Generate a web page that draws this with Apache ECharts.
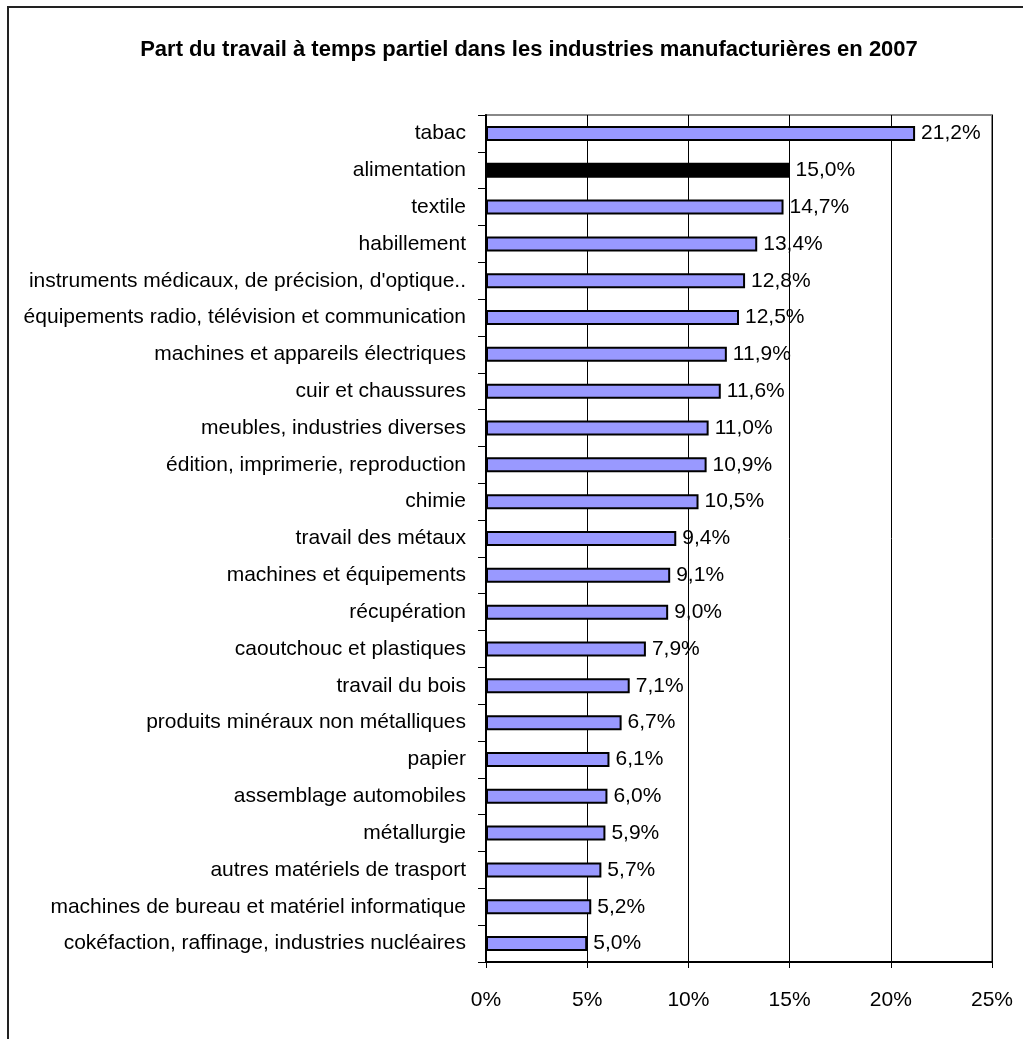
<!DOCTYPE html>
<html>
<head>
<meta charset="utf-8">
<script src="https://cdn.jsdelivr.net/npm/echarts@6/dist/echarts.min.js"></script>
<style>
html,body{margin:0;padding:0;background:#fff;}
#frame{position:absolute;left:7px;top:6px;width:1100px;height:1100px;border-left:2px solid #222;border-top:2px solid #222;}
#c{position:absolute;left:0;top:0;width:1023px;height:1039px;}
</style>
</head>
<body>
<div id="frame"></div>
<div id="c"></div>
<script>
const categories = [
  "tabac",
  "alimentation",
  "textile",
  "habillement",
  "instruments médicaux, de précision, d'optique..",
  "équipements radio, télévision et communication",
  "machines et appareils électriques",
  "cuir et chaussures",
  "meubles, industries diverses",
  "édition, imprimerie, reproduction",
  "chimie",
  "travail des métaux",
  "machines et équipements",
  "récupération",
  "caoutchouc et plastiques",
  "travail du bois",
  "produits minéraux non métalliques",
  "papier",
  "assemblage automobiles",
  "métallurgie",
  "autres matériels de trasport",
  "machines de bureau et matériel informatique",
  "cokéfaction, raffinage, industries nucléaires"
];
const values = [21.2, 15.0, 14.7, 13.4, 12.8, 12.5, 11.9, 11.6, 11.0, 10.9, 10.5, 9.4, 9.1, 9.0, 7.9, 7.1, 6.7, 6.1, 6.0, 5.9, 5.7, 5.2, 5.0];
const highlighted = "alimentation";
const xTicks = [0, 5, 10, 15, 20, 25];
const titleText = "Part du travail à temps partiel dans les industries manufacturières en 2007";

const FONT = "'Liberation Sans', Arial, sans-serif";
const LS = 21;
const chart = echarts.init(document.getElementById('c'), null, {renderer: 'canvas'});
chart.setOption({
  animation: false,
  backgroundColor: 'transparent',
  title: {
    text: titleText,
    left: 524, top: 34, textAlign: 'center',
    textStyle: {fontFamily: FONT, fontSize: 22, fontWeight: 'bold', color: '#000'}
  },
  grid: {left: 486, top: 115, right: 31, bottom: 77, outerBoundsMode: 'none', containLabel: false,
         show: true, borderColor: '#888', borderWidth: 2, backgroundColor: 'transparent'},
  xAxis: {
    type: 'value', min: xTicks[0], max: xTicks[xTicks.length-1], interval: 5,
    axisLine: {show: true, onZero: false, lineStyle: {color: '#000', width: 2}},
    axisTick: {show: true, length: 6, lineStyle: {color: '#000', width: 1}},
    splitLine: {show: true, lineStyle: {color: '#000', width: 1}},
    axisLabel: {margin: 28, fontFamily: FONT, fontSize: LS, color: '#000', formatter: v => v + '%'}
  },
  yAxis: {
    type: 'category', data: categories, inverse: true,
    axisLine: {show: true, lineStyle: {color: '#000', width: 2}},
    axisTick: {show: true, length: 8, lineStyle: {color: '#000', width: 1}},
    axisLabel: {margin: 20, fontFamily: FONT, fontSize: LS, color: '#000'}
  },
  series: [{
    type: 'bar',
    data: values.map((v, i) => ({
      value: v,
      itemStyle: categories[i] === highlighted ? {color: '#000', borderColor: '#000', borderWidth: 2} : {color: '#9999FF', borderColor: '#000', borderWidth: 2}
    })),
    barWidth: 15,
    label: {
      show: true, position: 'right', distance: 6,
      fontFamily: FONT, fontSize: LS, color: '#000',
      formatter: p => p.value.toFixed(1).replace('.', ',') + '%'
    }
  }]
});
</script>
</body>
</html>
